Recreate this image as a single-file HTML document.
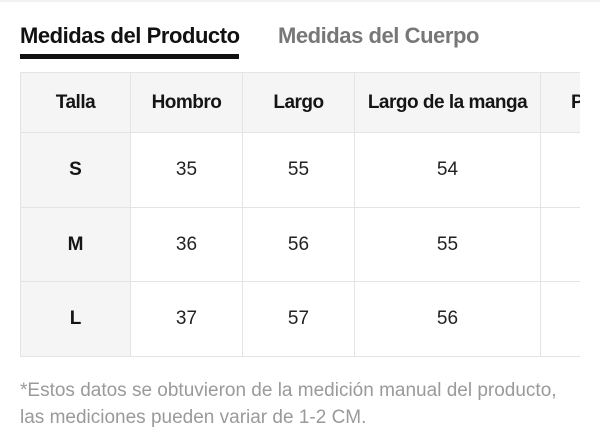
<!DOCTYPE html>
<html><head><meta charset="utf-8"><style>
*{margin:0;padding:0;box-sizing:border-box}
html,body{width:600px;height:448px;background:#fff;overflow:hidden;font-family:"Liberation Sans",Arial,sans-serif}
.topline{position:absolute;left:0;top:0;width:600px;height:2px;background:#f1f1f1}
.tab{position:absolute;top:25px;font-size:22px;line-height:22px;font-weight:bold;letter-spacing:-0.45px;white-space:nowrap}
.t1{left:20px;color:#111}
.t2{left:278px;color:#777}
.ul{position:absolute;left:20px;top:54px;width:219px;height:5px;background:#111}
.wrap{position:absolute;left:20px;top:72px;width:560px;height:285px;overflow:hidden}
.c{position:absolute;display:flex;align-items:center;justify-content:center;border-left:1px solid #e4e4e4;border-top:1px solid #e4e4e4;font-size:19px;color:#222;white-space:nowrap}
.h{background:#f5f5f5;font-weight:bold;letter-spacing:-0.5px;color:#151515}
.f{background:#f5f5f5;font-weight:bold;color:#151515}
.bot{position:absolute;left:0;top:284px;width:560px;height:1px;background:#e4e4e4}
.note{position:absolute;left:20px;top:377px;font-size:19px;line-height:27px;color:#9a9a9a;white-space:nowrap}
</style></head><body>
<div class="topline"></div>
<div class="tab t1">Medidas del Producto</div>
<div class="tab t2">Medidas del Cuerpo</div>
<div class="ul"></div>
<div class="wrap">
  <!-- header row: y 0-60 -->
  <div class="c h" style="left:0;top:0;width:110px;height:60px">Talla</div>
  <div class="c h" style="left:110px;top:0;width:112px;height:60px">Hombro</div>
  <div class="c h" style="left:222px;top:0;width:112px;height:60px">Largo</div>
  <div class="c h" style="left:334px;top:0;width:186px;height:60px">Largo de la manga</div>
  <div class="c h" style="left:520px;top:0;width:80px;height:60px;justify-content:flex-start;padding-left:30px">P</div>
  <!-- S row: 60-135 -->
  <div class="c f" style="left:0;top:60px;width:110px;height:75px">S</div>
  <div class="c" style="left:110px;top:60px;width:112px;height:75px">35</div>
  <div class="c" style="left:222px;top:60px;width:112px;height:75px">55</div>
  <div class="c" style="left:334px;top:60px;width:186px;height:75px">54</div>
  <div class="c" style="left:520px;top:60px;width:80px;height:75px"></div>
  <!-- M row: 135-209 -->
  <div class="c f" style="left:0;top:135px;width:110px;height:74px">M</div>
  <div class="c" style="left:110px;top:135px;width:112px;height:74px">36</div>
  <div class="c" style="left:222px;top:135px;width:112px;height:74px">56</div>
  <div class="c" style="left:334px;top:135px;width:186px;height:74px">55</div>
  <div class="c" style="left:520px;top:135px;width:80px;height:74px"></div>
  <!-- L row: 209-284 -->
  <div class="c f" style="left:0;top:209px;width:110px;height:75px">L</div>
  <div class="c" style="left:110px;top:209px;width:112px;height:75px">37</div>
  <div class="c" style="left:222px;top:209px;width:112px;height:75px">57</div>
  <div class="c" style="left:334px;top:209px;width:186px;height:75px">56</div>
  <div class="c" style="left:520px;top:209px;width:80px;height:75px"></div>
  <div class="bot"></div>
</div>
<div class="note">*Estos datos se obtuvieron de la medición manual del producto,<br>las mediciones pueden variar de 1-2 CM.</div>
</body></html>
